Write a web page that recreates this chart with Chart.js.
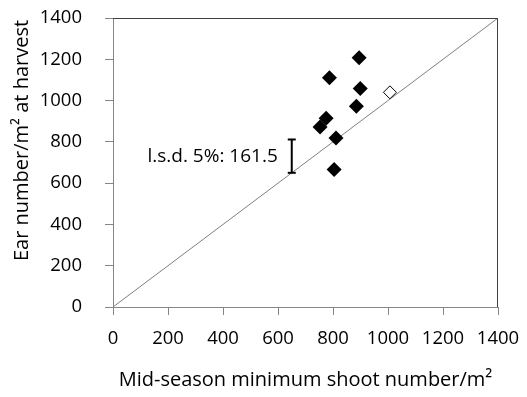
<!DOCTYPE html>
<html>
<head>
<meta charset="utf-8">
<script src="https://cdn.jsdelivr.net/npm/chart.js@4/dist/chart.umd.min.js"></script>
<style>
  html, body { margin: 0; padding: 0; background: #fff; }
  #wrap { width: 527px; height: 397px; }
</style>
</head>
<body>
<div id="wrap"><canvas id="c" width="527" height="397"></canvas></div>
<script>
// Shoot number mid-season vs ear number at harvest (per m²)
const shootNumber = [895, 787, 899, 885, 775, 753, 811, 804];
const earNumber   = [1207, 1110, 1058, 972, 914, 872, 819, 666];

// Reference treatment (open marker)
const refShoot = [1007];
const refEar   = [1040];

// 1:1 line end points
const oneToOne = [0, 1400];

// Least significant difference bar
const lsdValue = 161.5;
const lsdX = 650;
const lsdBase = 650;
const lsdLabel = 'l.s.d. 5%: ' + lsdValue;

// Axis settings
const axisMin = 0, axisMax = 1400, axisStep = 200;
const xTitle = 'Mid-season minimum shoot number/m²';
const yTitle = 'Ear number/m² at harvest';

const FONT = "'Open Sans', 'Liberation Sans', sans-serif";

const frameAndText = {
  id: 'frameAndText',
  afterDatasetsDraw(chart) {
    const { ctx, chartArea: a, scales } = chart;
    ctx.save();
    // top and right frame lines
    ctx.strokeStyle = '#404040';
    ctx.lineWidth = 1;
    ctx.beginPath();
    ctx.moveTo(a.left, a.top + 0.5);
    ctx.lineTo(a.right - 0.5, a.top + 0.5);
    ctx.lineTo(a.right - 0.5, a.bottom);
    ctx.stroke();

    // l.s.d. label beside the bar
    const bx = scales.x.getPixelForValue(lsdX);
    const by = scales.y.getPixelForValue(lsdBase + lsdValue / 2);
    ctx.fillStyle = '#000';
    ctx.font = '19px ' + FONT;
    ctx.textAlign = 'right';
    ctx.textBaseline = 'middle';
    ctx.fillText(lsdLabel, bx - 14, by);
    ctx.restore();
  },
  afterDraw(chart) {
    const { ctx, chartArea: a } = chart;
    ctx.save();
    ctx.fillStyle = '#000';
    ctx.font = '20px ' + FONT;
    ctx.textAlign = 'center';
    ctx.textBaseline = 'alphabetic';
    ctx.fillText(xTitle, (a.left + a.right) / 2, 386);
    ctx.translate(28, (a.top + a.bottom) / 2 - 22);
    ctx.rotate(-Math.PI / 2);
    ctx.fillText(yTitle, 0, 0);
    ctx.restore();
  }
};

const axisCommon = {
  type: 'linear',
  min: axisMin,
  max: axisMax,
  ticks: {
    stepSize: axisStep,
    color: '#000',
    font: { family: FONT, size: 18.5 },
    callback: v => String(v)
  },
  grid: {
    drawOnChartArea: false,
    drawTicks: true,
    tickLength: 8,
    color: '#868686'
  },
  border: { color: '#868686', width: 1 }
};

new Chart(document.getElementById('c'), {
  type: 'scatter',
  data: {
    datasets: [
      {
        data: shootNumber.map((v, i) => ({ x: v, y: earNumber[i] })),
        pointStyle: 'rectRot',
        pointRadius: 7.5,
        backgroundColor: '#000',
        borderColor: '#000',
        borderWidth: 0,
        order: 1
      },
      {
        data: refShoot.map((v, i) => ({ x: v, y: refEar[i] })),
        pointStyle: 'rectRot',
        pointRadius: 6.5,
        backgroundColor: '#fff',
        borderColor: '#000',
        borderWidth: 1,
        order: 2
      },
      {
        data: oneToOne.map(v => ({ x: v, y: v })),
        showLine: true,
        pointRadius: 0,
        borderColor: '#7f7f7f',
        borderWidth: 1,
        order: 4
      },
      {
        data: [{ x: lsdX, y: lsdBase }, { x: lsdX, y: lsdBase + lsdValue }],
        showLine: true,
        pointStyle: 'line',
        pointRadius: 4,
        borderColor: '#000',
        borderWidth: 2,
        order: 3
      }
    ]
  },
  options: {
    responsive: false,
    animation: false,
    devicePixelRatio: 1,
    layout: { padding: { top: 18, right: 29, left: 0, bottom: 0 } },
    plugins: {
      legend: { display: false },
      tooltip: { enabled: false }
    },
    scales: {
      x: Object.assign({}, axisCommon, {
        position: 'bottom',
        ticks: Object.assign({}, axisCommon.ticks, { padding: 13, maxRotation: 0, autoSkip: false }),
        afterFit(s) { s.height = 90; s.paddingLeft = 0; s.paddingRight = 0; }
      }),
      y: Object.assign({}, axisCommon, {
        position: 'left',
        ticks: Object.assign({}, axisCommon.ticks, { padding: 23 }),
        afterFit(s) { s.width = 113; s.paddingTop = 0; s.paddingBottom = 0; }
      })
    }
  },
  plugins: [frameAndText]
});
</script>
</body>
</html>
